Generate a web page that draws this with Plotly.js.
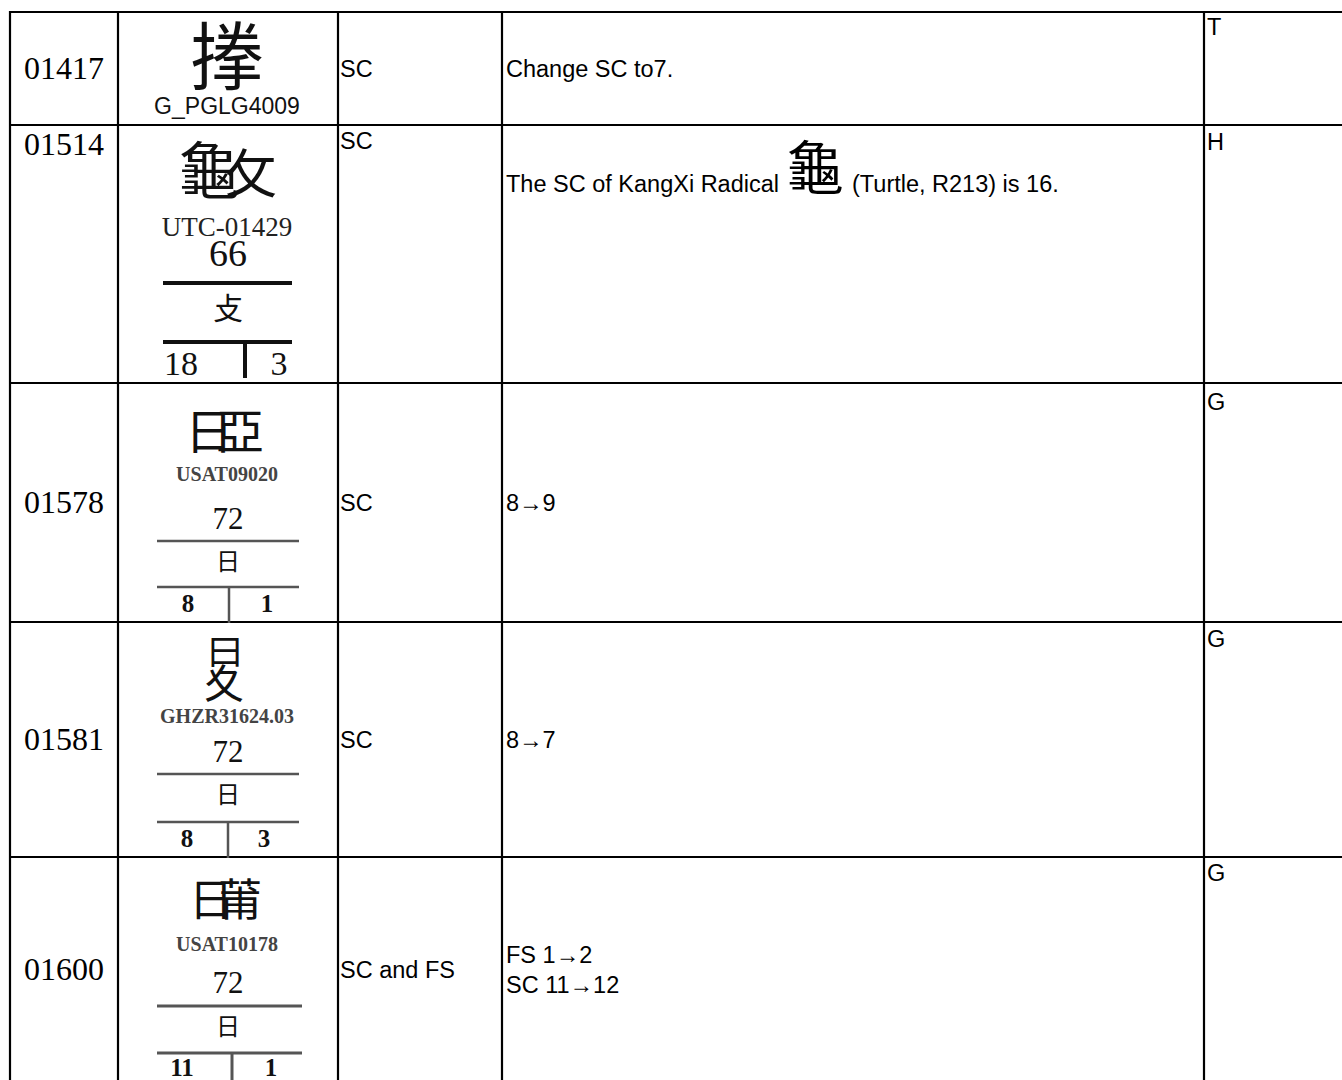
<!DOCTYPE html>
<html>
<head>
<meta charset="utf-8">
<script src="https://cdn.plot.ly/plotly-3.0.1.min.js"></script>
<style>
html,body{margin:0;padding:0;background:#fff;}
#chart{width:1342px;height:1080px;}
</style>
</head>
<body>
<div id="chart"></div>
<script>
// ---------------- DATA ----------------
const ids = ['01417', '01514', '01578', '01581', '01600'];
const sourceRefs = ['G_PGLG4009', 'UTC-01429', 'USAT09020', 'GHZR31624.03', 'USAT10178'];
const radicalNums = ['', '66', '72', '72', '72'];
const radicalChars = ['', '攴', '日', '日', '日'];
const strokesTotal = ['', '18', '8', '8', '11'];
const strokesFirst = ['', '3', '1', '3', '1'];
const categories = ['SC', 'SC', 'SC', 'SC', 'SC and FS'];
const descriptions = ['Change SC to7.', 'The SC of KangXi Radical', '8→9', '8→7', 'FS 1→2<br>SC 11→12'];
const inlineGlyphs = ['', '龜', '', '', ''];
const descriptionTails = ['', '(Turtle, R213) is 16.', '', '', ''];
const statuses = ['T', 'H', 'G', 'G', 'G'];
const glyphParts = [['搼'], ['龜', '攵'], ['日', '亞'], ['曰', '夊'], ['日', '莆']];

// ---------------- LAYOUT GEOMETRY ----------------
const W = 1342, H = 1080;
const colBounds = [10, 118, 338, 502, 1204];
const rowBounds = [12, 125, 383, 622, 857, 1080];
const idY = [71, 147, 505, 742, 972];
const catY = [71, 143, 505, 742, 972];
const descY = [71, 186, 505, 742, 972];
const statusY = [29, 144, 404, 641, 875];
const sourceY = [108, 229, 476, 718, 946];
const sourceFont = [
  {f: 'Liberation Sans', s: 23, c: '#111', b: false},
  {f: 'Liberation Serif', s: 27, c: '#222', b: false},
  {f: 'Liberation Serif', s: 20, c: '#444', b: true},
  {f: 'Liberation Serif', s: 20, c: '#444', b: true},
  {f: 'Liberation Serif', s: 20, c: '#444', b: true}
];
const radNumY = [0, 256, 521, 754, 985];
const radNumSize = [0, 38, 31, 31, 31];
const radCharY = [0, 311, 564, 797, 1029];
const radCharSize = [0, 30, 24, 24, 24];
const line1Y = [0, 283, 541, 774, 1006];
const line2Y = [0, 342, 587, 822, 1053];
const barX0 = [0, 163, 157, 157, 157];
const barX1 = [0, 292, 299, 299, 302];
const barW = [0, 4, 2.5, 2.5, 3];
const barColor = ['#000', '#111', '#555', '#555', '#555'];
const divX = [0, 245, 229, 228, 232];
const numY = [0, 366, 606, 841, 1070];
const numLeftX = [0, 181, 188, 187, 182];
const numRightX = [0, 279, 267, 264, 271];
const numSize = [0, 34, 25, 25, 25];
const numBold = [false, false, true, true, true];
const glyphPos = [
  [[227, 65, 74]],
  [[209, 178, 62], [251, 180, 52]],
  [[209, 437, 48], [240, 437, 48]],
  [[225, 656, 36], [224, 688, 40]],
  [[211, 905, 44], [240, 905, 44]]
];
const inlineGlyphPos = [815, 174, 58];
const tailX = 852;
const descX = 506, catX = 340, statusX = 1207;
const sansSize = 23.5;

const CJK = 'Noto Sans CJK TC';
const SANS = 'Liberation Sans, Arial';
const SERIF = 'Liberation Serif, Times New Roman';

// ---------------- TRACES ----------------
function textTrace(x, y, text, pos, font) {
  return {type: 'scatter', mode: 'text', x: x, y: y, text: text,
    textposition: pos, textfont: font, hoverinfo: 'skip', showlegend: false, cliponaxis: false};
}
const traces = [];
const colMid = (i) => (colBounds[i] + colBounds[i + 1]) / 2;

traces.push(textTrace(ids.map(() => colMid(0)), idY, ids, 'middle center',
  {family: SERIF, size: 32, color: '#000'}));

traces.push(textTrace(ids.map(() => 227), sourceY,
  sourceRefs.map((s, i) => sourceFont[i].b ? '<b>' + s + '</b>' : s), 'middle center',
  {family: sourceFont.map(o => o.f), size: sourceFont.map(o => o.s), color: sourceFont.map(o => o.c)}));

// glyph components
const gx = [], gy = [], gt = [], gs = [];
glyphParts.forEach((parts, i) => parts.forEach((p, j) => {
  gt.push(p); gx.push(glyphPos[i][j][0]); gy.push(glyphPos[i][j][1]); gs.push(glyphPos[i][j][2]);
}));
traces.push(textTrace(gx, gy, gt, 'middle center', {family: CJK, size: gs, color: '#111'}));

// radical blocks
const rIdx = radicalNums.map((v, i) => i).filter(i => radicalNums[i] !== '');
traces.push(textTrace(rIdx.map(() => 228), rIdx.map(i => radNumY[i]), rIdx.map(i => radicalNums[i]),
  'middle center', {family: SERIF, size: rIdx.map(i => radNumSize[i]), color: '#111'}));
traces.push(textTrace(rIdx.map(() => 228), rIdx.map(i => radCharY[i]), rIdx.map(i => radicalChars[i]),
  'middle center', {family: CJK, size: rIdx.map(i => radCharSize[i]), color: '#111'}));
const bt = (s, i) => numBold[i] ? '<b>' + s + '</b>' : s;
traces.push(textTrace(rIdx.map(i => numLeftX[i]), rIdx.map(i => numY[i]), rIdx.map(i => bt(strokesTotal[i], i)),
  'middle center', {family: SERIF, size: rIdx.map(i => numSize[i]), color: '#111'}));
traces.push(textTrace(rIdx.map(i => numRightX[i]), rIdx.map(i => numY[i]), rIdx.map(i => bt(strokesFirst[i], i)),
  'middle center', {family: SERIF, size: rIdx.map(i => numSize[i]), color: '#111'}));

traces.push(textTrace(ids.map(() => catX), catY, categories, 'middle right',
  {family: SANS, size: sansSize, color: '#000'}));
traces.push(textTrace(ids.map(() => descX), descY, descriptions, 'middle right',
  {family: SANS, size: sansSize, color: '#000'}));
const dIdx = inlineGlyphs.map((v, i) => i).filter(i => inlineGlyphs[i] !== '');
traces.push(textTrace(dIdx.map(() => inlineGlyphPos[0]), dIdx.map(() => inlineGlyphPos[1]), dIdx.map(i => inlineGlyphs[i]),
  'middle center', {family: CJK, size: inlineGlyphPos[2], color: '#000'}));
traces.push(textTrace(dIdx.map(() => tailX), dIdx.map(i => descY[i]), dIdx.map(i => descriptionTails[i]),
  'middle right', {family: SANS, size: sansSize, color: '#000'}));
traces.push(textTrace(ids.map(() => statusX), statusY, statuses, 'middle right',
  {family: SANS, size: sansSize, color: '#000'}));

// ---------------- SHAPES ----------------
const shapes = [];
const lineStyle = {color: '#000', width: 2.2};
rowBounds.slice(0, 5).forEach(y => shapes.push({type: 'line', xref: 'x', yref: 'y', x0: colBounds[0] - 1, x1: W + 5, y0: y, y1: y, line: lineStyle}));
colBounds.forEach(x => shapes.push({type: 'line', xref: 'x', yref: 'y', x0: x, x1: x, y0: rowBounds[0] - 1, y1: H + 5, line: lineStyle}));
rIdx.forEach(i => {
  const ls = {color: barColor[i], width: barW[i]};
  shapes.push({type: 'line', xref: 'x', yref: 'y', x0: barX0[i], x1: barX1[i], y0: line1Y[i], y1: line1Y[i], line: ls});
  shapes.push({type: 'line', xref: 'x', yref: 'y', x0: barX0[i], x1: barX1[i], y0: line2Y[i], y1: line2Y[i], line: ls});
  shapes.push({type: 'line', xref: 'x', yref: 'y', x0: divX[i], x1: divX[i], y0: line2Y[i], y1: Math.min(line2Y[i] + 36, H + 5), line: ls});
});

const axisCommon = {visible: false, showgrid: false, zeroline: false, fixedrange: true};
const layout = {
  width: W, height: H,
  margin: {l: 0, r: 0, t: 0, b: 0, pad: 0},
  paper_bgcolor: '#fff', plot_bgcolor: '#fff',
  xaxis: Object.assign({range: [0, W]}, axisCommon),
  yaxis: Object.assign({range: [H, 0]}, axisCommon),
  shapes: shapes,
  showlegend: false
};
Plotly.newPlot('chart', traces, layout, {displayModeBar: false, staticPlot: true});
</script>
</body>
</html>
